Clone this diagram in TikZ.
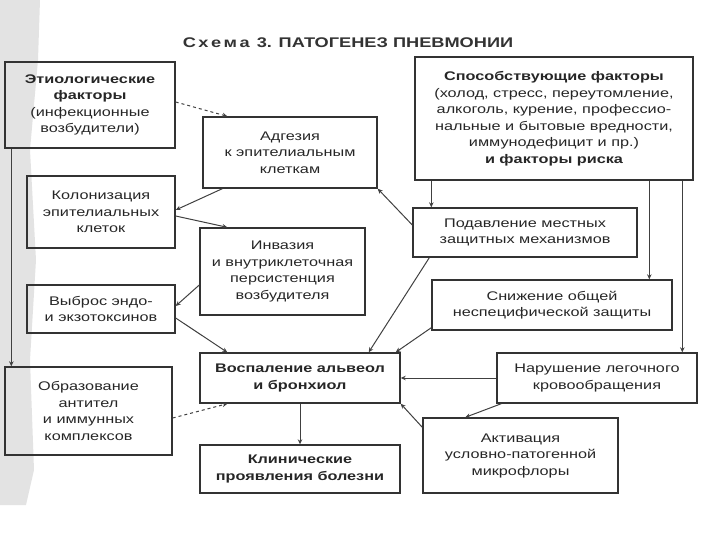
\documentclass[tikz,border=0pt]{standalone}
\usepackage{fontspec}
\setmainfont[FakeStretch=1.3]{Liberation Sans}
\usetikzlibrary{arrows.meta}
\begin{document}
\begin{tikzpicture}[x=1pt,y=-1pt,
  box/.style={draw=black!80, line width=1.4pt, align=center, inner sep=0pt, text=black!85,
    font=\fontsize{12.5}{16.5}\selectfont},
  arr/.style={draw=black!75, line width=1pt, -{Stealth[length=5pt,width=4.5pt]}}]
\useasboundingbox (0,0) rectangle (720,540);
\fill[gray!22] (0,0) -- (40,0) -- (38,60) -- (30,150) -- (36,260) -- (30,360) -- (34,470) -- (26,505) -- (0,505) -- cycle;
\node[font=\fontsize{14}{16}\selectfont\bfseries, text=black!80] (title) at (348,43) {С\hspace{2.5pt}х\hspace{2.5pt}е\hspace{2.5pt}м\hspace{2.5pt}а\hspace{2pt} 3. ПАТОГЕНЕЗ ПНЕВМОНИИ};
\node[box, minimum width=170pt, minimum height=86pt] (etio) at (90,105)
  {{\bfseries Этиологические}\\{\bfseries факторы}\\(инфекционные\\возбудители)};
\node[box, minimum width=174pt, minimum height=71pt] (adh) at (290,152.5)
  {Адгезия\\к эпителиальным\\клеткам};
\node[box, minimum width=278pt, minimum height=123pt] (sp) at (554,118.5)
  {{\bfseries Способствующие факторы}\\(холод, стресс, переутомление,\\алкоголь, курение, профессио-\\нальные и бытовые вредности,\\иммунодефицит и пр.)\\{\bfseries и факторы риска}};
\node[box, minimum width=148pt, minimum height=72pt] (kol) at (101,212)
  {Колонизация\\эпителиальных\\клеток};
\node[box, minimum width=165pt, minimum height=87pt] (inv) at (282.5,271.5)
  {Инвазия\\и внутриклеточная\\персистенция\\возбудителя};
\node[box, minimum width=224pt, minimum height=49pt] (pod) at (525,232.5)
  {Подавление местных\\защитных механизмов};
\node[box, minimum width=240pt, minimum height=50pt] (sn) at (552,305)
  {Снижение общей\\неспецифической защиты};
\node[box, minimum width=148pt, minimum height=48pt] (vyb) at (101,309)
  {Выброс эндо-\\и экзотоксинов};
\node[box, minimum width=200pt, minimum height=50pt] (vosp) at (300,378)
  {{\bfseries Воспаление альвеол}\\{\bfseries и бронхиол}};
\node[box, minimum width=200pt, minimum height=50pt] (nar) at (597,378)
  {Нарушение легочного\\кровообращения};
\node[box, minimum width=167pt, minimum height=88pt] (obr) at (88.5,411)
  {Образование\\антител\\и иммунных\\комплексов};
\node[box, minimum width=195pt, minimum height=75pt] (akt) at (520.5,455.5)
  {Активация\\условно-патогенной\\микрофлоры};
\node[box, minimum width=200pt, minimum height=48pt] (klin) at (300,469)
  {{\bfseries Клинические}\\{\bfseries проявления болезни}};
% coordinates
\coordinate (p1) at ([xshift=19pt]pod.north west);
\coordinate (p2) at ([xshift=218pt]sn.north west);
\coordinate (p3) at ([xshift=186pt]nar.north west);
\coordinate (e1) at ([xshift=7pt]etio.south west);
\coordinate (e2) at ([xshift=7pt]obr.north west);
% connectors
\draw[arr, dashed] ([yshift=3pt]etio.east) -- ([xshift=25pt]adh.north west);
\draw[arr] (e1) -- (e2);
\draw[arr] ([xshift=20pt]adh.south west) -- ([yshift=2pt]kol.east);
\draw[arr] ([yshift=-4pt]kol.east) -- ([xshift=28pt]inv.north west);
\draw[arr] ([yshift=-13.5pt]inv.west) -- ([yshift=3pt]vyb.east);
\draw[arr] ([yshift=-9pt]vyb.east) -- ([xshift=28pt]vosp.north west);
\draw[arr] ([yshift=7.5pt]pod.west) -- (adh.south east);
\draw[arr] (sp.south -| p1) -- (p1);
\draw[arr] (sp.south -| p2) -- (p2);
\draw[arr] (sp.south -| p3) -- (p3);
\draw[arr] ([xshift=17pt]pod.south west) -- ([xshift=-32pt]vosp.north east);
\draw[arr] ([yshift=3pt]sn.south west) -- ([xshift=-5pt]vosp.north east);
\draw[arr] (nar.west) -- (vosp.east);
\draw[arr] ([xshift=5pt]nar.south west) -- ([xshift=43pt]akt.north west);
\draw[arr] ([yshift=-10pt]akt.north west) -- (vosp.south east);
\draw[arr, dashed] ([yshift=-7pt]obr.east) -- ([xshift=28pt]vosp.south west);
\draw[arr] (vosp.south) -- (klin.north);
\end{tikzpicture}
\end{document}
